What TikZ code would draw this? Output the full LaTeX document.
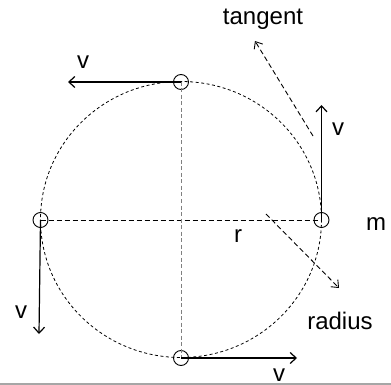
\documentclass[tikz,border=0pt]{standalone}
\usepackage{fontspec}
\setmainfont{Liberation Sans}
\usetikzlibrary{arrows.meta}
\begin{document}
\begin{tikzpicture}[x=1pt,y=-1pt,
  particle/.style={circle,draw,line width=0.9pt,minimum size=15pt,inner sep=0pt},
  vel/.style={line width=1.2pt,-{Straight Barb[length=6pt,width=11pt]}},
  guide/.style={line width=0.9pt,dash pattern=on 5pt off 3pt,-{Straight Barb[length=6pt,width=10pt]}},
  lbl/.style={font=\fontsize{24}{28}\selectfont,inner sep=0pt}]
\useasboundingbox (0,0) rectangle (391,385);
\coordinate (O) at (181,219.5);
% orbit
\draw[line width=0.8pt,dash pattern=on 3pt off 2.5pt] (O) circle [x radius=140.5, y radius=138];
% particles
\node[particle] (top) at (181,82) {};
\node[particle] (bot) at (181,358) {};
\node[particle] (lft) at (40.5,220) {};
\node[particle] (rgt) at (321.5,220) {};
% diameters
\draw[line width=0.9pt,dash pattern=on 5pt off 3pt] (lft.center) -- (rgt.center);
\draw[line width=1pt,gray,dash pattern=on 4pt off 2.5pt] (top.center) -- (bot.center);
% velocity arrows
\coordinate (vt) at (68,82);
\coordinate (vr) at (321.5,105);
\coordinate (vl) at (39,334);
\coordinate (vb) at (297,358);
\draw[vel] (top.center) -- (vt);
\draw[vel] (rgt.center) -- (vr);
\draw[vel] (lft.center) -- (vl);
\draw[vel] (bot.center) -- (vb);
% tangent and radius guides
\coordinate (t1) at (313,136);
\coordinate (t2) at (255,41);
\coordinate (r1) at (266,214);
\coordinate (r2) at (339,288);
\draw[guide] (t1) -- (t2);
\draw[guide] (r1) -- (r2);
% labels
\node[lbl] (ltan) at (263,19) {tangent};
\node[lbl] (lrad) at (340,321) {radius};
\node[lbl] (lr) at (238,236) {r};
\node[lbl] (lm) at (376,224) {m};
\node[lbl] (lvt) at (83,62) {v};
\node[lbl] (lvr) at (338,129) {v};
\node[lbl] (lvl) at (21,312) {v};
\node[lbl] (lvb) at (279,375) {v};
% bottom rule
\draw[line width=2pt,black!35] (0,383.5) -- (391,383.5);
\end{tikzpicture}
\end{document}
